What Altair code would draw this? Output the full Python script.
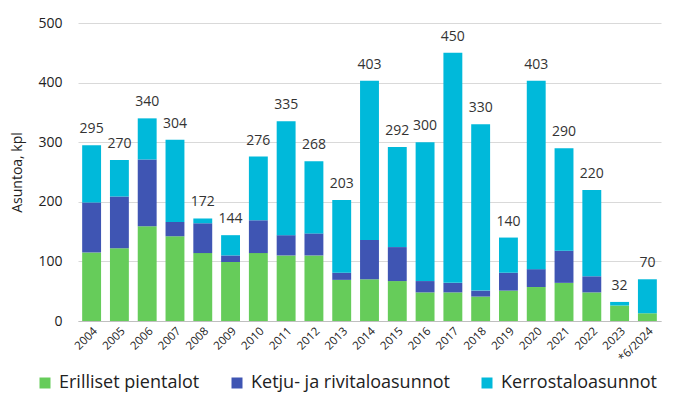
import altair as alt
import pandas as pd

years = ["2004","2005","2006","2007","2008","2009","2010","2011","2012","2013","2014",
         "2015","2016","2017","2018","2019","2020","2021","2022","2023","*6/2024"]
erilliset = [115,122,159,142,114,99,114,110,110,69,70,67,48,48,41,51,57,64,48,26,13]
ketju = [84,87,112,24,50,11,55,34,37,12,66,57,19,16,10,30,30,54,27,0,0]
kerros = [96,61,69,138,8,34,107,191,121,122,267,168,233,386,279,59,316,172,145,6,57]
totals = [295,270,340,304,172,144,276,335,268,203,403,292,300,450,330,140,403,290,220,32,70]

series = ["Erilliset pientalot", "Ketju- ja rivitaloasunnot", "Kerrostaloasunnot"]
colors = ["#66CC5A", "#3F55B3", "#00B9DA"]

rows = []
for i, y in enumerate(years):
    for k, (name, vals) in enumerate(zip(series, [erilliset, ketju, kerros])):
        rows.append({"vuosi": y, "sarja": name, "arvo": vals[i], "jarj": k})
df = pd.DataFrame(rows)
tot = pd.DataFrame({"vuosi": years, "yht": totals})

font = "Open Sans"
xenc = alt.X("vuosi:N", sort=years, title=None,
             scale=alt.Scale(paddingInner=0.32, paddingOuter=0.15),
             axis=alt.Axis(labelAngle=-45, labelFontSize=11.5, labelColor="#222",
                           ticks=False, domainColor="#BFBFBF", labelPadding=4))

bars = alt.Chart(df).mark_bar().encode(
    x=xenc,
    y=alt.Y("arvo:Q", stack="zero", title="Asuntoa, kpl",
            scale=alt.Scale(domain=[0, 500], nice=False),
            axis=alt.Axis(values=list(range(0, 501, 50)), labelOverlap=False,
                          labelFontSize=14, labelColor="#222",
                          titleFontSize=14, titleFontWeight="normal", titleColor="#222",
                          domain=False, ticks=False, gridColor="#D9D9D9", labelPadding=16,
                          titlePadding=13)),
    color=alt.Color("sarja:N", sort=series,
                    scale=alt.Scale(domain=series, range=colors),
                    legend=alt.Legend(orient="none", direction="horizontal", title=None,
                                      legendX=-42, legendY=351, symbolType="square",
                                      symbolSize=121, symbolStrokeWidth=0,
                                      labelFontSize=18, labelColor="#222", labelLimit=400,
                                      columnPadding=28, labelOffset=5)),
    order=alt.Order("jarj:Q"),
)

labels = alt.Chart(tot).mark_text(baseline="bottom", dy=-9, fontSize=14, color="#333", font=font).encode(
    x=alt.X("vuosi:N", sort=years),
    y=alt.Y("yht:Q"),
    text=alt.Text("yht:Q"),
)

chart = alt.layer(bars, labels).properties(
    width=583, height=298,
    autosize=alt.AutoSizeParams(type="none"),
    padding={"left": 70, "top": 15, "right": 7, "bottom": 72},
).configure(font=font).configure_view(stroke=None)

chart.save("out.html", embed_options={"renderer": "svg", "actions": False})
